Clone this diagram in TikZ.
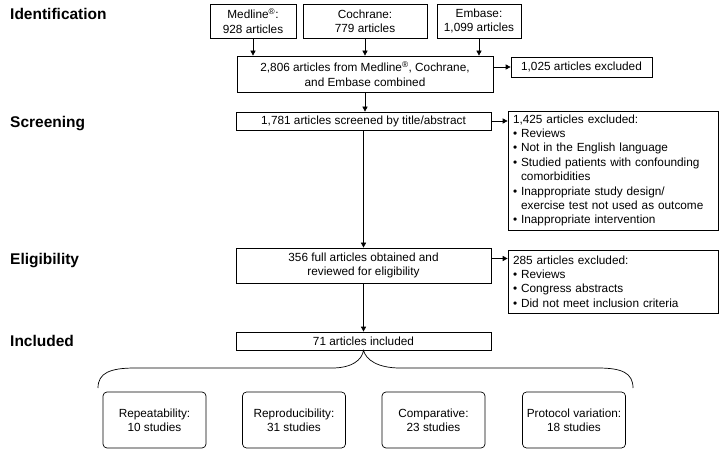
\documentclass[tikz,border=0pt]{standalone}
\usepackage{fontspec}
\setmainfont{Liberation Sans}
\usetikzlibrary{arrows.meta}
\begin{document}
\begin{tikzpicture}[x=1pt,y=-1pt,
    box/.style={draw,line width=0.7pt,align=center,inner sep=0pt,
      font=\fontsize{11.8}{14.4}\selectfont},
    listbox/.style={draw,line width=0.7pt,align=left,inner xsep=5pt,inner ysep=0pt,
      text width=200pt,minimum height=#1,font=\fontsize{11.8}{14.4}\selectfont},
    studybox/.style={box,rounded corners=4pt,minimum width=103pt,minimum height=56pt},
    phase/.style={anchor=base west,inner sep=0pt,font=\fontsize{15.5}{18}\selectfont\bfseries}]
  \useasboundingbox (0,0) rectangle (728,454);
  \draw
    (10,20) node[phase] (id){Identification}
    (10,128) node[phase] (scrn){Screening}
    (10,265) node[phase] (elg){Eligibility}
    (10,346) node[phase] (inc){Included}
    (253,21) node[box,minimum width=86pt,minimum height=34pt] (med){Medline\textsuperscript{\textregistered}:\\928 articles}
    (365,21) node[box,minimum width=124pt,minimum height=34pt] (coch){Cochrane:\\779 articles}
    (479,21) node[box,minimum width=84pt,minimum height=34pt] (emb){Embase:\\1,099 articles}
    (365,74) node[box,minimum width=256pt,minimum height=36pt] (comb){2,806 articles from Medline\textsuperscript{\textregistered}, Cochrane,\\and Embase combined}
    (581.5,67) node[box,minimum width=141pt,minimum height=20pt] (excl1){1,025 articles excluded}
    (363.5,121) node[box,minimum width=255pt,minimum height=18pt] (scr){1,781 articles screened by title/abstract}
    (613,170.5) node[listbox=119pt] (excl2){1,425 articles excluded:\\
      \textbullet\ Reviews\\
      \textbullet\ Not in the English language\\
      \textbullet\ Studied patients with confounding\\
      \hphantom{\textbullet\ }comorbidities\\
      \textbullet\ Inappropriate study design/\\
      \hphantom{\textbullet\ }exercise test not used as outcome\\
      \textbullet\ Inappropriate intervention}
    (363.5,265.5) node[box,minimum width=255pt,minimum height=35pt] (elig){356 full articles obtained and\\reviewed for eligibility}
    (613,281.5) node[listbox=63pt] (excl3){285 articles excluded:\\
      \textbullet\ Reviews\\
      \textbullet\ Congress abstracts\\
      \textbullet\ Did not meet inclusion criteria}
    (363.5,341) node[box,minimum width=255pt,minimum height=18pt] (incl){71 articles included}
    (154.5,420) node[studybox] (rep){Repeatability:\\10 studies}
    (294,420) node[studybox] (repr){Reproducibility:\\31 studies}
    (433.5,420) node[studybox] (comp){Comparative:\\23 studies}
    (574,420) node[studybox] (prot){Protocol variation:\\18 studies};
  \coordinate (e3) at ([yshift=7pt]elig.east);
  \coordinate (bl) at (98,388);
  \coordinate (br) at (633,388);
  \begin{scope}[-{Triangle[length=5pt,width=5pt]},line width=0.7pt]
    \draw (med.south) to (med.south |- comb.north);
    \draw (coch.south) to (coch.south |- comb.north);
    \draw (emb.south) to (emb.south |- comb.north);
    \draw (excl1.west -| comb.east) to (excl1.west);
    \draw (comb.south) to (comb.south |- scr.north);
    \draw (scr.east) to (scr.east -| excl2.west);
    \draw (scr.south) to (elig.north);
    \draw (e3) to (e3 -| excl3.west);
    \draw (elig.south) to (incl.north);
    \draw[-] (bl) .. controls (98,373) and (110,368) .. (135,368) -- (332,368)
      .. controls (352,368) and (362,360) .. (incl.south)
      .. controls (366,360) and (378,368) .. (400,368) -- (598,368)
      .. controls (622,368) and (633,373) .. (br);
  \end{scope}
\end{tikzpicture}
\end{document}
